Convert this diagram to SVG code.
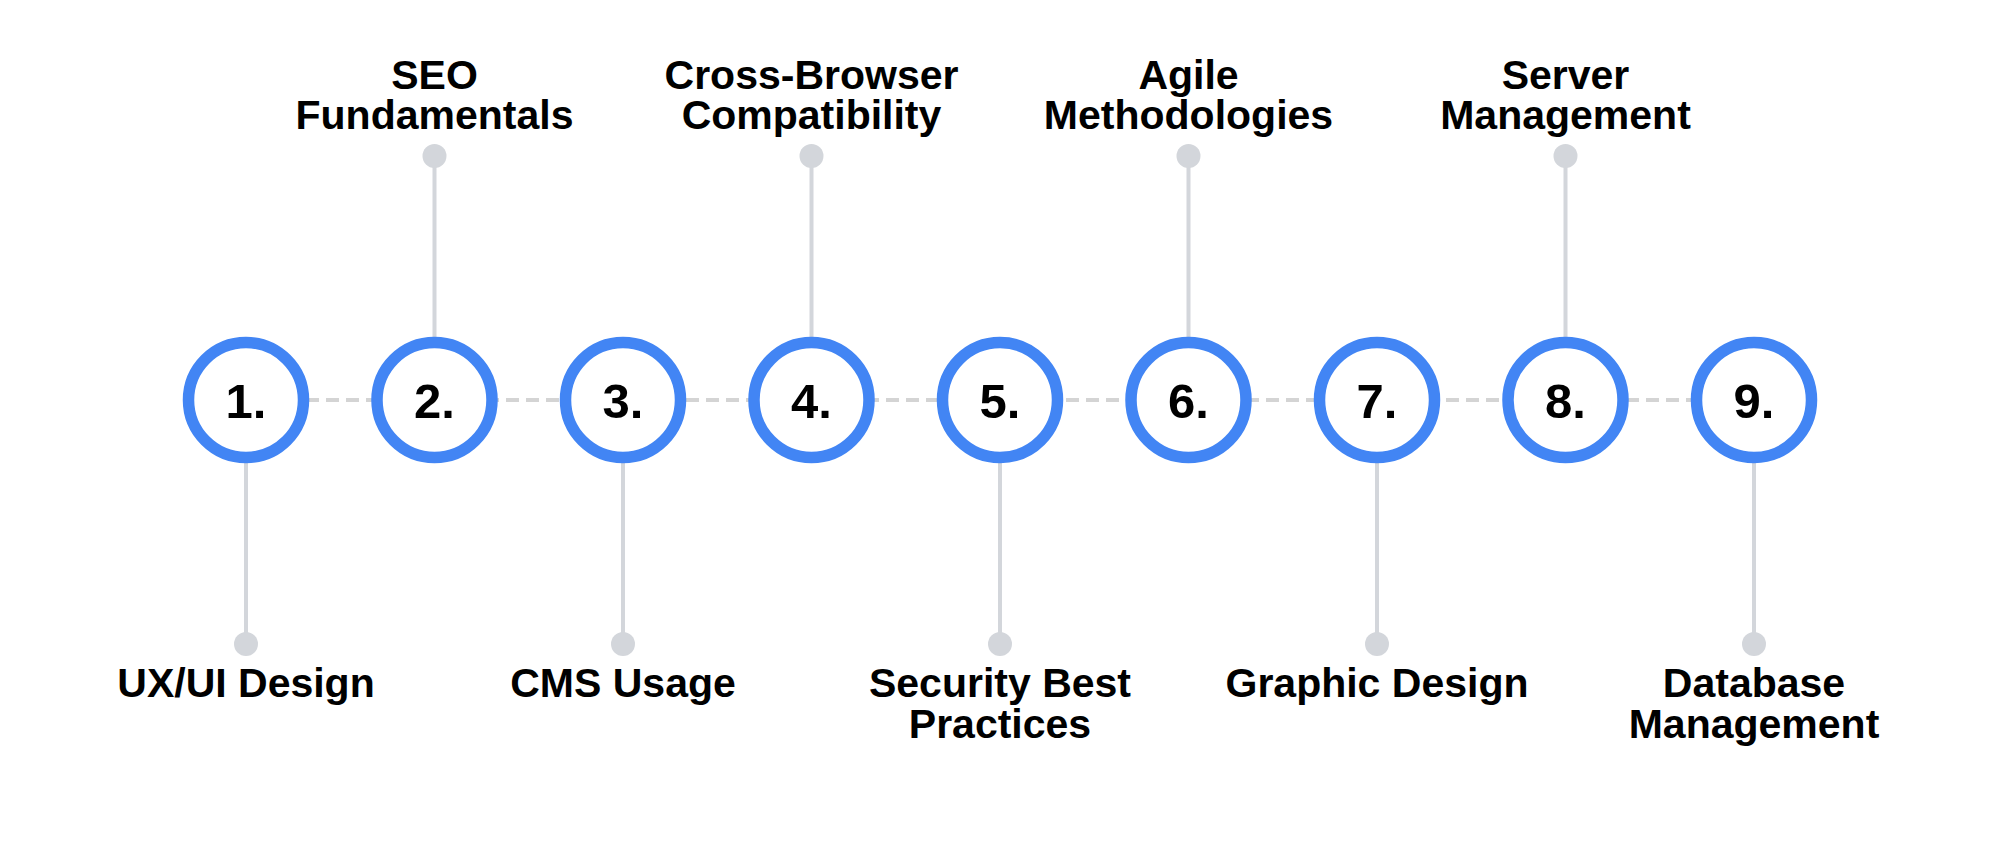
<svg xmlns="http://www.w3.org/2000/svg" width="2000" height="848" viewBox="0 0 2000 848">
<style>
.ring{fill:#fff;stroke:#4285f4;stroke-width:11.5}
.num{font-family:"Liberation Sans",Arial,sans-serif;font-weight:bold;font-size:49px;fill:#000;text-anchor:middle}
.lbl{font-family:"Liberation Sans",Arial,sans-serif;font-weight:bold;font-size:41px;fill:#000;text-anchor:middle}
.stem{stroke:#d3d6db;stroke-width:4}
.dot{fill:#d3d6db}
.dash{stroke:#d4d4d4;stroke-width:4;stroke-dasharray:13 7}
</style>
<rect width="2000" height="848" fill="#fff"/>
<g id="connectors">
<line class="dash" x1="246" y1="400" x2="1754" y2="400"/>
<line class="stem" x1="246" y1="400" x2="246" y2="644"/>
<line class="stem" x1="434.5" y1="400" x2="434.5" y2="156"/>
<line class="stem" x1="623" y1="400" x2="623" y2="644"/>
<line class="stem" x1="811.5" y1="400" x2="811.5" y2="156"/>
<line class="stem" x1="1000" y1="400" x2="1000" y2="644"/>
<line class="stem" x1="1188.5" y1="400" x2="1188.5" y2="156"/>
<line class="stem" x1="1377" y1="400" x2="1377" y2="644"/>
<line class="stem" x1="1565.5" y1="400" x2="1565.5" y2="156"/>
<line class="stem" x1="1754" y1="400" x2="1754" y2="644"/>
<circle class="dot" cx="246" cy="644" r="12"/>
<circle class="dot" cx="434.5" cy="156" r="12"/>
<circle class="dot" cx="623" cy="644" r="12"/>
<circle class="dot" cx="811.5" cy="156" r="12"/>
<circle class="dot" cx="1000" cy="644" r="12"/>
<circle class="dot" cx="1188.5" cy="156" r="12"/>
<circle class="dot" cx="1377" cy="644" r="12"/>
<circle class="dot" cx="1565.5" cy="156" r="12"/>
<circle class="dot" cx="1754" cy="644" r="12"/>
</g>
<g id="node1"><circle class="ring" cx="246" cy="400" r="57.5"/><text class="num" x="246" y="418">1.</text><text class="lbl" x="246" y="697">UX/UI Design</text></g>
<g id="node2"><circle class="ring" cx="434.5" cy="400" r="57.5"/><text class="num" x="434.5" y="418">2.</text><text class="lbl"><tspan x="434.5" y="89">SEO</tspan><tspan x="434.5" y="129">Fundamentals</tspan></text></g>
<g id="node3"><circle class="ring" cx="623" cy="400" r="57.5"/><text class="num" x="623" y="418">3.</text><text class="lbl" x="623" y="697">CMS Usage</text></g>
<g id="node4"><circle class="ring" cx="811.5" cy="400" r="57.5"/><text class="num" x="811.5" y="418">4.</text><text class="lbl"><tspan x="811.5" y="89">Cross-Browser</tspan><tspan x="811.5" y="129">Compatibility</tspan></text></g>
<g id="node5"><circle class="ring" cx="1000" cy="400" r="57.5"/><text class="num" x="1000" y="418">5.</text><text class="lbl"><tspan x="1000" y="697">Security Best</tspan><tspan x="1000" y="738">Practices</tspan></text></g>
<g id="node6"><circle class="ring" cx="1188.5" cy="400" r="57.5"/><text class="num" x="1188.5" y="418">6.</text><text class="lbl"><tspan x="1188.5" y="89">Agile</tspan><tspan x="1188.5" y="129">Methodologies</tspan></text></g>
<g id="node7"><circle class="ring" cx="1377" cy="400" r="57.5"/><text class="num" x="1377" y="418">7.</text><text class="lbl" x="1377" y="697">Graphic Design</text></g>
<g id="node8"><circle class="ring" cx="1565.5" cy="400" r="57.5"/><text class="num" x="1565.5" y="418">8.</text><text class="lbl"><tspan x="1565.5" y="89">Server</tspan><tspan x="1565.5" y="129">Management</tspan></text></g>
<g id="node9"><circle class="ring" cx="1754" cy="400" r="57.5"/><text class="num" x="1754" y="418">9.</text><text class="lbl"><tspan x="1754" y="697">Database</tspan><tspan x="1754" y="738">Management</tspan></text></g>
</svg>
